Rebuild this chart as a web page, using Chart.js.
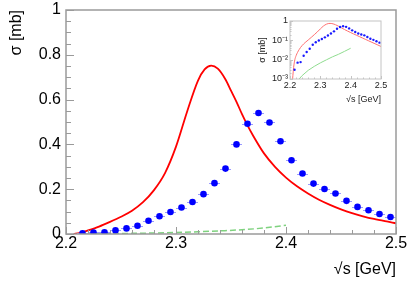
<!DOCTYPE html>
<html>
<head>
<meta charset="utf-8">
<script src="https://cdn.jsdelivr.net/npm/chart.js@4.4.1/dist/chart.umd.min.js"></script>
<style>
    body { margin: 0; background: #fff; }
    #wrap { position: relative; width: 411px; height: 282px; }
    #mainChart { position: absolute; left: 0; top: 0; }
    #insetChart { position: absolute; left: 256px; top: 12px; }
</style>
</head>
<body>
<div id="wrap">
    <canvas id="mainChart" width="411" height="282"></canvas>
    <canvas id="insetChart" width="140" height="96"></canvas>
</div>
<script>
// measured points (sqrt(s) bin centres, half bin width)
const dataX = [2.215, 2.225, 2.235, 2.245, 2.255, 2.265, 2.275, 2.285, 2.295, 2.305,
    2.315, 2.325, 2.335, 2.345, 2.355, 2.365, 2.375, 2.385, 2.395, 2.405,
    2.415, 2.425, 2.435, 2.445, 2.455, 2.465, 2.475, 2.485, 2.495];
const dataY = [0.003, 0.007, 0.0075, 0.016, 0.025, 0.037, 0.059, 0.079, 0.098, 0.118,
    0.143, 0.178, 0.227, 0.292, 0.400, 0.492, 0.540, 0.498, 0.414, 0.329,
    0.270, 0.225, 0.201, 0.181, 0.148, 0.121, 0.106, 0.089, 0.076];
const dataXErr = 0.005;

// model curve (red)
const curveX = [2.207, 2.212, 2.216, 2.22, 2.23, 2.24, 2.25, 2.26, 2.27, 2.28,
    2.29, 2.30, 2.31, 2.32, 2.326, 2.332, 2.338, 2.345, 2.35, 2.355,
    2.36, 2.365, 2.37, 2.38, 2.39, 2.40, 2.41, 2.42, 2.43, 2.44,
    2.45, 2.46, 2.47, 2.48, 2.49, 2.50];
const curveY = [0.0005, 0.004, 0.01, 0.016, 0.033, 0.054, 0.077, 0.104, 0.142, 0.196,
    0.272, 0.39, 0.545, 0.685, 0.735, 0.752, 0.738, 0.69, 0.64, 0.59,
    0.535, 0.485, 0.44, 0.36, 0.30, 0.252, 0.213, 0.181, 0.153, 0.13,
    0.11, 0.093, 0.079, 0.067, 0.057, 0.048];

// background contribution (green, dashed)
const bgX = [2.21, 2.22, 2.23, 2.24, 2.26, 2.28, 2.30, 2.32, 2.34, 2.36, 2.38, 2.40];
const bgY = [0.0002, 0.0005, 0.001, 0.0015, 0.0028, 0.0045, 0.0068, 0.0098, 0.014, 0.019, 0.027, 0.039];

// axes
const xTickVals = [2.2, 2.3, 2.4, 2.5];
const xTickLabels = ['2.2', '2.3', '2.4', '2.5'];
const yTickVals = [0, 0.2, 0.4, 0.6, 0.8, 1];
const yTickLabels = ['0', '0.2', '0.4', '0.6', '0.8', '1'];
const insetYTickVals = [0.001, 0.01, 0.1, 1];
const insetYTickLabels = ['10⁻³', '10⁻²', '10⁻¹', '1'];

const toXY = (xs, ys) => xs.map((x, i) => ({x: x, y: ys[i]}));
const FONT = "'Liberation Sans', Arial, sans-serif";

// draws the box and ROOT-like inward ticks
const frameTicks = {
    id: 'frameTicks',
    afterDatasetsDraw(chart, args, o) {
        const {ctx, chartArea: a, scales: {x, y}} = chart;
        ctx.save();
        ctx.strokeStyle = o.color;
        ctx.lineWidth = o.width;
        ctx.strokeRect(a.left, a.top, a.right - a.left, a.bottom - a.top);
        ctx.lineWidth = 1;
        ctx.beginPath();
        o.xTicks.forEach(t => {
            const px = Math.round(x.getPixelForValue(t[0])) + 0.5;
            ctx.moveTo(px, a.bottom);
            ctx.lineTo(px, a.bottom - t[1]);
        });
        o.yTicks.forEach(t => {
            const py = Math.round(y.getPixelForValue(t[0])) + 0.5;
            ctx.moveTo(a.left, py);
            ctx.lineTo(a.left + t[1], py);
        });
        ctx.stroke();
        ctx.restore();
    }
};

// horizontal error bars under the data points
const xErrorBars = {
    id: 'xErrorBars',
    beforeDatasetDraw(chart, args, o) {
        if (args.index !== o.index) return;
        const {ctx, scales: {x, y}} = chart;
        ctx.save();
        ctx.strokeStyle = o.color;
        ctx.lineWidth = 1;
        ctx.beginPath();
        dataX.forEach((v, i) => {
            const py = Math.round(y.getPixelForValue(dataY[i])) + 0.5;
            ctx.moveTo(x.getPixelForValue(v - dataXErr), py);
            ctx.lineTo(x.getPixelForValue(v + dataXErr), py);
        });
        ctx.stroke();
        ctx.restore();
    }
};

// tick mark lists for the frame plugin
const mainXTicks = [];
for (let i = 0; i <= 15; i++) mainXTicks.push([2.2 + i * 0.02, i % 5 === 0 ? 7 : 4]);
const mainYTicks = [];
for (let i = 0; i <= 20; i++) mainYTicks.push([i * 0.05, i % 4 === 0 ? 8 : 5]);
const insetXTicks = [];
for (let i = 0; i <= 15; i++) insetXTicks.push([2.2 + i * 0.02, i % 5 === 0 ? 3 : 1.5]);
const insetYTicks = [];
[0.001, 0.01, 0.1].forEach(d => {
    for (let k = 1; k <= 9; k++) insetYTicks.push([d * k, k === 1 ? 3 : 1.5]);
});
insetYTicks.push([1, 3]);

// 주 그래프
const mainChart = new Chart(document.getElementById('mainChart'), {
    type: 'scatter',
    data: {
        datasets: [{
            data: toXY(curveX, curveY),
            showLine: true,
            borderColor: '#ff0000',
            borderWidth: 1.8,
            pointRadius: 0,
            cubicInterpolationMode: 'monotone',
            order: 3,
        }, {
            data: toXY(bgX, bgY),
            showLine: true,
            borderColor: '#7fd27f',
            borderWidth: 1.5,
            borderDash: [6, 3],
            pointRadius: 0,
            cubicInterpolationMode: 'monotone',
            order: 2,
        }, {
            data: toXY(dataX, dataY),
            pointRadius: 3.3,
            pointBackgroundColor: '#0000ff',
            pointBorderWidth: 0,
            order: 1,
        }]
    },
    options: {
        responsive: false,
        animation: false,
        devicePixelRatio: 1,
        layout: { padding: { left: 0, right: 15, top: 10, bottom: 0 } },
        plugins: {
            legend: { display: false },
            tooltip: { enabled: false },
            frameTicks: { color: '#9a9a9a', width: 1.5, xTicks: mainXTicks, yTicks: mainYTicks },
            xErrorBars: { index: 2, color: '#9a9aff' },
        },
        scales: {
            x: {
                type: 'linear', min: 2.2, max: 2.5,
                grid: { display: false, drawTicks: false },
                border: { display: false },
                afterBuildTicks: s => { s.ticks = xTickVals.map(v => ({value: v})); },
                ticks: {
                    autoSkip: false, maxRotation: 0, padding: 0, color: '#000',
                    font: { family: FONT, size: 16 },
                    callback: (v) => xTickLabels[xTickVals.findIndex(t => Math.abs(t - v) < 1e-6)],
                },
                title: {
                    display: true, text: '√s [GeV]', align: 'end', color: '#000',
                    font: { family: FONT, size: 16 }, padding: { top: 0, bottom: 3 },
                },
                afterFit: s => { s.height = 48; s.paddingLeft = 0; s.paddingRight = 0; },
            },
            y: {
                type: 'linear', min: 0, max: 1,
                grid: { display: false, drawTicks: false },
                border: { display: false },
                afterBuildTicks: s => { s.ticks = yTickVals.map(v => ({value: v})); },
                ticks: {
                    autoSkip: false, padding: 5, color: '#000',
                    font: { family: FONT, size: 16 },
                    callback: (v) => yTickLabels[yTickVals.findIndex(t => Math.abs(t - v) < 1e-6)],
                },
                title: {
                    display: true, text: 'σ [mb]', align: 'end', color: '#000',
                    font: { family: FONT, size: 16 }, padding: { top: 7, bottom: 0 },
                },
                afterFit: s => { s.width = 66; s.paddingTop = 0; s.paddingBottom = 0; },
            }
        }
    },
    plugins: [frameTicks, xErrorBars],
});

// 삽입 그래프 (log)
const insetChart = new Chart(document.getElementById('insetChart'), {
    type: 'scatter',
    data: {
        datasets: [{
            data: toXY(curveX, curveY),
            showLine: true,
            borderColor: '#ff7070',
            borderWidth: 1,
            pointRadius: 0,
            cubicInterpolationMode: 'monotone',
            order: 3,
        }, {
            data: toXY(bgX, bgY),
            showLine: true,
            borderColor: '#8fdc8f',
            borderWidth: 1,
            pointRadius: 0,
            order: 2,
        }, {
            data: toXY(dataX, dataY),
            pointRadius: 1.2,
            pointBackgroundColor: '#1a1aff',
            pointBorderWidth: 0,
            order: 1,
        }]
    },
    options: {
        responsive: false,
        animation: false,
        devicePixelRatio: 1,
        layout: { padding: { left: 0, right: 15, top: 9, bottom: 0 } },
        plugins: {
            legend: { display: false },
            tooltip: { enabled: false },
            frameTicks: { color: '#c4c4c4', width: 1, xTicks: insetXTicks, yTicks: insetYTicks },
        },
        scales: {
            x: {
                type: 'linear', min: 2.2, max: 2.5,
                grid: { display: false, drawTicks: false },
                border: { display: false },
                afterBuildTicks: s => { s.ticks = xTickVals.map(v => ({value: v})); },
                ticks: {
                    autoSkip: false, maxRotation: 0, padding: 1, color: '#222',
                    font: { family: FONT, size: 9 },
                    callback: (v) => xTickLabels[xTickVals.findIndex(t => Math.abs(t - v) < 1e-6)],
                },
                title: {
                    display: true, text: '√s [GeV]', align: 'end', color: '#222',
                    font: { family: FONT, size: 9 }, padding: { top: 0, bottom: 3 },
                },
                afterFit: s => { s.height = 29; s.paddingLeft = 0; s.paddingRight = 0; },
            },
            y: {
                type: 'logarithmic', min: 0.001, max: 1,
                grid: { display: false, drawTicks: false },
                border: { display: false },
                afterBuildTicks: s => { s.ticks = insetYTickVals.map(v => ({value: v})); },
                ticks: {
                    autoSkip: false, padding: 2, color: '#222',
                    font: { family: FONT, size: 9 },
                    callback: (v) => insetYTickLabels[insetYTickVals.findIndex(t => Math.abs(t - v) < 1e-9)],
                },
                title: {
                    display: true, text: 'σ [mb]', align: 'center', color: '#222',
                    font: { family: FONT, size: 9 }, padding: { top: 1, bottom: 0 },
                },
                afterFit: s => { s.width = 34; s.paddingTop = 0; s.paddingBottom = 0; },
            }
        }
    },
    plugins: [frameTicks],
});
</script>
</body>
</html>
